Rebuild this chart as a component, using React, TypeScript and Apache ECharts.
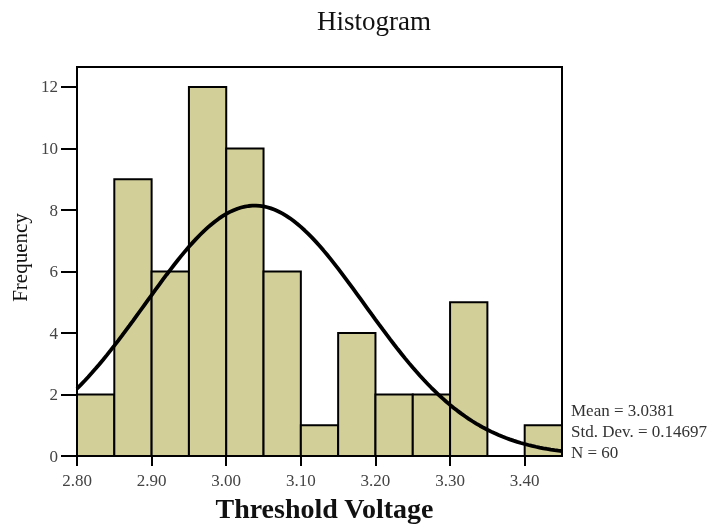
import React, { useEffect, useRef } from "react";
import * as echarts from "echarts";

const binStarts = [2.8, 2.85, 2.9, 2.95, 3.0, 3.05, 3.1, 3.15, 3.2, 3.25, 3.3, 3.35, 3.4];
const binWidth = 0.05;
const counts = [2, 9, 6, 12, 10, 6, 1, 4, 2, 2, 5, 0, 1];
const xTicks = [2.8, 2.9, 3.0, 3.1, 3.2, 3.3, 3.4];
const yTicks = [0, 2, 4, 6, 8, 10, 12];
const MEAN = 3.0381;
const SD = 0.14697;
const N = 60;
const statLines = ["Mean = 3.0381", "Std. Dev. = 0.14697", "N = 60"];

const SERIF = "'Liberation Serif', 'DejaVu Serif', serif";

export default function App() {
  const ref = useRef<HTMLDivElement>(null);
  useEffect(() => {
    if (!ref.current) return;
    const chart = echarts.init(ref.current, undefined, { renderer: "svg" });
    const bars = binStarts.map((s, i) => [s, s + binWidth, counts[i]]);
    // normal curve fitted from the stated statistics (mean, std. dev., N)
    const curve: number[][] = [];
    const xmin = 2.8, xmax = 3.45;
    for (let k = 0; k <= 130; k++) {
      const x = xmin + ((xmax - xmin) * k) / 130;
      const z = (x - MEAN) / SD;
      const y = ((N * binWidth) / (SD * Math.sqrt(2 * Math.PI))) * Math.exp(-0.5 * z * z);
      curve.push([x, y]);
    }
    chart.setOption({
      animation: false,
      title: {
        text: "Histogram",
        left: 369,
        textAlign: "center",
        top: 2,
        textStyle: { fontFamily: SERIF, fontSize: 27, fontWeight: "normal", color: "#111" },
      },
      grid: {
        left: 77,
        right: 159,
        top: 67,
        bottom: 67,
        show: true,
        borderColor: "#000",
        borderWidth: 2,
        backgroundColor: "transparent",
      },
      xAxis: {
        type: "value",
        min: 2.8,
        max: 3.45,
        interval: 0.1,
        name: "Threshold Voltage",
        nameLocation: "middle",
        nameGap: 34,
        nameTextStyle: { fontFamily: SERIF, fontSize: 28, fontWeight: "bold", color: "#111", padding: [0, 0, 0, 10] },
        axisLine: { show: true, lineStyle: { color: "#000", width: 2 } },
        axisTick: { show: true, inside: false, length: 10, lineStyle: { color: "#000", width: 2 }, customValues: xTicks },
        axisLabel: {
          customValues: xTicks,
          formatter: (v: number) => v.toFixed(2),
          fontFamily: SERIF,
          fontSize: 17,
          color: "#444",
          margin: 16,
        },
        splitLine: { show: false },
      },
      yAxis: {
        type: "value",
        min: 0,
        max: 12.65,
        interval: 2,
        name: "Frequency",
        nameLocation: "middle",
        nameGap: 44,
        nameRotate: 90,
        nameTextStyle: { fontFamily: SERIF, fontSize: 21, color: "#111", padding: [0, 0, 0, 8] },
        axisLine: { show: true, lineStyle: { color: "#000", width: 2 } },
        axisTick: { show: true, inside: false, length: 16, lineStyle: { color: "#000", width: 2 }, customValues: yTicks },
        axisLabel: {
          customValues: yTicks,
          fontFamily: SERIF,
          fontSize: 17,
          color: "#444",
          margin: 19,
        },
        splitLine: { show: false },
      },
      series: [
        {
          type: "custom",
          data: bars,
          renderItem: (params: any, api: any) => {
            const p0 = api.coord([api.value(0), api.value(2)]);
            const p1 = api.coord([api.value(1), 0]);
            return {
              type: "rect",
              shape: { x: p0[0], y: p0[1], width: p1[0] - p0[0], height: p1[1] - p0[1] },
              style: { fill: "#D3CF99", stroke: "#000", lineWidth: 2 },
            };
          },
          encode: { x: [0, 1], y: 2 },
          z: 2,
        },
        {
          type: "line",
          data: curve,
          showSymbol: false,
          symbol: "none",
          smooth: false,
          lineStyle: { color: "#000", width: 3.8 },
          z: 3,
        },
      ],
      graphic: statLines.map((t, i) => ({
        type: "text",
        left: 571,
        top: 402 + i * 21,
        style: { text: t, fontFamily: SERIF, fontSize: 17, fill: "#333" },
      })),
    });
    return () => chart.dispose();
  }, []);
  return (
    <div
      ref={ref}
      style={{ position: "fixed", left: 0, top: 0, width: 721, height: 527 }}
    />
  );
}
